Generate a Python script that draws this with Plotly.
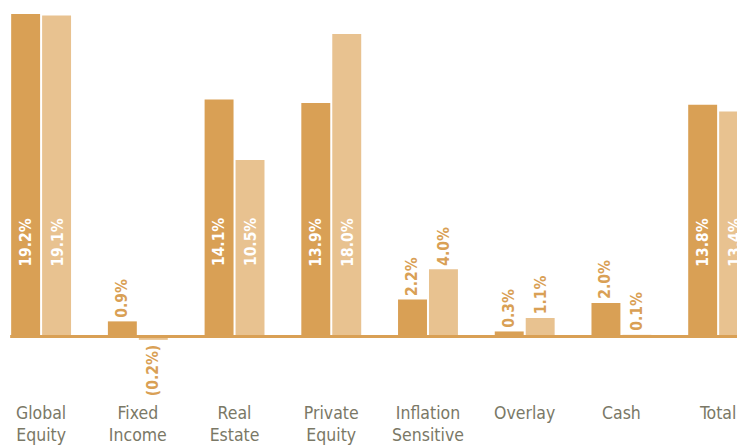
import plotly.graph_objects as go

categories = ["Global<br>Equity", "Fixed<br>Income", "Real<br>Estate", "Private<br>Equity",
              "Inflation<br>Sensitive", "Overlay", "Cash", "Total"]
series_a = [19.2, 0.9, 14.1, 13.9, 2.2, 0.3, 2.0, 13.8]
series_b = [19.1, -0.2, 10.5, 18.0, 4.0, 1.1, 0.1, 13.4]

DARK = "#D9A055"
LIGHT = "#E8C290"
TEXT_GRAY = "#7A7866"
FONT = "DejaVu Sans Condensed, Liberation Sans Narrow, Arial Narrow, sans-serif"
INSIDE_MIN = 6.0


def fmt(v):
    return f"({abs(v):.1f}%)" if v < 0 else f"{v:.1f}%"


fig = go.Figure()
fig.add_trace(go.Bar(x=categories, y=series_a, marker_color=DARK, marker_line_width=0, name="A"))
fig.add_trace(go.Bar(x=categories, y=series_b, marker_color=LIGHT, marker_line_width=0, name="B"))

annotations = []
for series, shift in ((series_a, -16), (series_b, 16)):
    for cat, v in zip(categories, series):
        txt = "<b>" + fmt(v) + "</b>"
        if v >= INSIDE_MIN:
            annotations.append(dict(x=cat, y=0, xref="x", yref="y", text=txt, textangle=-90,
                                    showarrow=False, xshift=shift, yshift=68, yanchor="bottom",
                                    font=dict(family=FONT, size=15.5, color="white")))
        elif v >= 0:
            annotations.append(dict(x=cat, y=v, xref="x", yref="y", text=txt, textangle=-90,
                                    showarrow=False, xshift=shift, yshift=2, yanchor="bottom",
                                    font=dict(family=FONT, size=15.5, color=DARK)))
        else:
            annotations.append(dict(x=cat, y=v, xref="x", yref="y", text=txt, textangle=-90,
                                    showarrow=False, xshift=shift, yshift=-3, yanchor="top",
                                    font=dict(family=FONT, size=15.5, color=DARK)))

fig.update_layout(
    width=737, height=445,
    margin=dict(l=0, r=0, t=0, b=45),
    paper_bgcolor="white", plot_bgcolor="white",
    barmode="group", bargap=0.36, bargroupgap=0.065,
    showlegend=False,
    annotations=annotations,
    shapes=[dict(type="line", xref="x", yref="y", x0=-0.32, x1=8, y0=0, y1=0,
                 line=dict(color=DARK, width=3), layer="above")],
    xaxis=dict(range=[-0.425, 7.195], showgrid=False, zeroline=False, showline=False,
               ticks="", automargin=False,
               tickfont=dict(family=FONT, size=17.5, color=TEXT_GRAY)),
    yaxis=dict(range=[-3.78, 20.03], showgrid=False, zeroline=False, showline=False,
               showticklabels=False, ticks="", automargin=False),
)

fig.write_html("out.html")
